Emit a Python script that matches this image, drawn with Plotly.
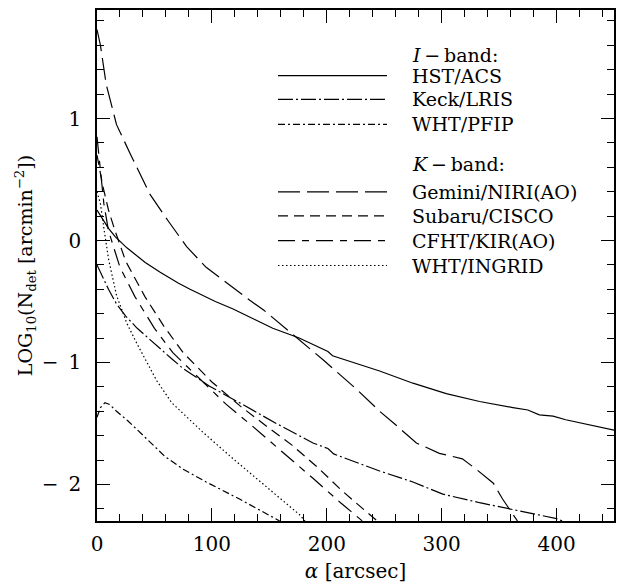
import plotly.graph_objects as go

# ---- data ----
hst_x = [0, 5, 10, 16, 26, 42, 55, 71, 81, 103, 118, 153, 176, 201, 205, 246, 275, 304, 333, 362, 375, 385, 397, 408, 450]
hst_y = [0.25, 0.18, 0.10, 0.03, -0.06, -0.18, -0.26, -0.35, -0.40, -0.50, -0.56, -0.72, -0.80, -0.91, -0.945, -1.07, -1.17, -1.255, -1.32, -1.37, -1.39, -1.43, -1.44, -1.47, -1.555]

keck_x = [0, 5, 10, 17, 25, 35, 49, 65, 75, 98, 124, 156, 188, 201, 206, 246, 275, 301, 333, 359, 374, 385, 400, 405]
keck_y = [-0.20, -0.30, -0.40, -0.52, -0.62, -0.72, -0.84, -0.97, -1.05, -1.195, -1.33, -1.50, -1.66, -1.706, -1.75, -1.89, -1.98, -2.08, -2.15, -2.20, -2.23, -2.255, -2.28, -2.30]

pfip_x = [0, 3, 7, 11, 17, 27, 42, 59, 75, 95, 124, 153, 159]
pfip_y = [-1.45, -1.37, -1.33, -1.345, -1.40, -1.48, -1.615, -1.77, -1.875, -1.98, -2.12, -2.27, -2.30]

gem_x = [0, 3, 8, 17, 29, 46, 62, 78, 95, 113, 133, 145, 174, 197, 226, 246, 261, 278, 298, 318, 330, 345, 353, 362, 366]
gem_y = [1.73, 1.60, 1.28, 0.95, 0.71, 0.38, 0.16, -0.05, -0.22, -0.35, -0.49, -0.57, -0.80, -0.98, -1.22, -1.40, -1.52, -1.66, -1.745, -1.79, -1.875, -1.99, -2.12, -2.24, -2.30]

sub_x = [0, 5, 10, 15.7, 25, 41.7, 58, 75, 100, 125, 150, 170, 192, 213, 234, 244]
sub_y = [0.70, 0.45, 0.25, 0.08, -0.17, -0.46, -0.70, -0.92, -1.16, -1.36, -1.54, -1.68, -1.86, -2.05, -2.22, -2.30]

cfht_x = [0, 3, 6, 10, 20, 33, 50, 66, 90, 112, 135, 160, 188, 212, 227, 231]
cfht_y = [0.85, 0.55, 0.30, 0.08, -0.22, -0.46, -0.72, -0.92, -1.14, -1.34, -1.52, -1.72, -1.95, -2.15, -2.27, -2.30]

ingrid_x = [0, 3, 6, 10, 17, 26, 35, 52, 65, 92.5, 118.5, 147.5, 176.5, 181]
ingrid_y = [0.40, 0.30, 0.10, -0.15, -0.45, -0.68, -0.85, -1.15, -1.33, -1.575, -1.79, -2.02, -2.25, -2.30]

y_tickvals = [-2, -1, 0, 1]
y_ticktext = ["\u2212\u20022", "\u2212\u20021", "0", "1"]

series = [
    ("HST/ACS", hst_x, hst_y, "solid"),
    ("Keck/LRIS", keck_x, keck_y, "15px,3px,2px,3px"),
    ("WHT/PFIP", pfip_x, pfip_y, "7px,3px,2px,3px"),
    ("Gemini/NIRI(AO)", gem_x, gem_y, "22px,7px"),
    ("Subaru/CISCO", sub_x, sub_y, "10px,6px"),
    ("CFHT/KIR(AO)", cfht_x, cfht_y, "17px,7px,7px,7px"),
    ("WHT/INGRID", ingrid_x, ingrid_y, "1.5px,2.5px"),
]

FONT = "DejaVu Serif"
LW = 1.2

fig = go.Figure()
for name, xs, ys, dash in series:
    fig.add_trace(go.Scatter(x=xs, y=ys, mode="lines", name=name,
                             line=dict(color="black", width=LW, dash=dash),
                             showlegend=False))

# ---- hand-drawn key (paper coordinates) ----
W, H = 629, 587
L, R, T, B = 97, 15, 8, 65
pw, ph = W - L - R, H - T - B

def px(xp):
    return (xp - L) / pw

def py(yp):
    return (H - B - yp) / ph

rows = [
    (53, "<i>I</i>\u2009\u2212\u2009band:", None),
    (74, "HST/ACS", "solid"),
    (98, "Keck/LRIS", "15px,3px,2px,3px"),
    (123, "WHT/PFIP", "7px,3px,2px,3px"),
    (163, "<i>K</i>\u2009\u2212\u2009band:", None),
    (191, "Gemini/NIRI(AO)", "22px,7px"),
    (215, "Subaru/CISCO", "10px,6px"),
    (240, "CFHT/KIR(AO)", "17px,7px,7px,7px"),
    (265, "WHT/INGRID", "1.5px,2.5px"),
]
for yp, txt, dash in rows:
    fig.add_annotation(x=px(410), y=py(yp), xref="paper", yref="paper",
                       text=txt, showarrow=False, xanchor="left", yanchor="middle",
                       font=dict(family=FONT, size=19, color="black"))
    if dash:
        fig.add_shape(type="line", xref="paper", yref="paper",
                      x0=px(278), x1=px(387), y0=py(yp), y1=py(yp),
                      line=dict(color="black", width=LW, dash=dash))

axis_common = dict(
    showgrid=False, zeroline=False, showline=True, linecolor="black", linewidth=1.5,
    mirror="allticks", ticks="inside", ticklen=13, tickwidth=1.2, tickcolor="black",
    tickfont=dict(family=FONT, size=20, color="black"),
)

fig.update_xaxes(range=[0, 450], dtick=100, tick0=0, ticklabelstandoff=4,
                 minor=dict(dtick=20, ticks="inside", ticklen=7, tickwidth=1.2, tickcolor="black"),
                 title=dict(text="<i>\u03b1</i> [arcsec]", font=dict(family=FONT, size=20, color="black"), standoff=9),
                 **axis_common)
fig.update_yaxes(range=[-2.3, 1.89], tickmode="array", tickvals=y_tickvals, ticktext=y_ticktext,
                 ticklabelstandoff=10,
                 minor=dict(tick0=0, dtick=0.2, ticks="inside", ticklen=7, tickwidth=1.2, tickcolor="black"),
                 title=dict(text="LOG<sub>10</sub>(N<sub>det</sub> [arcmin<sup>\u22122</sup>])",
                            font=dict(family=FONT, size=19, color="black"), standoff=4),
                 **axis_common)

fig.update_layout(width=W, height=H, margin=dict(l=L, r=R, t=T, b=B),
                  plot_bgcolor="white", paper_bgcolor="white",
                  font=dict(family=FONT, color="black"))

fig.write_html("out.html", config={"displayModeBar": False},
               post_script="document.body.style.margin='0px';document.body.style.padding='0px';")
